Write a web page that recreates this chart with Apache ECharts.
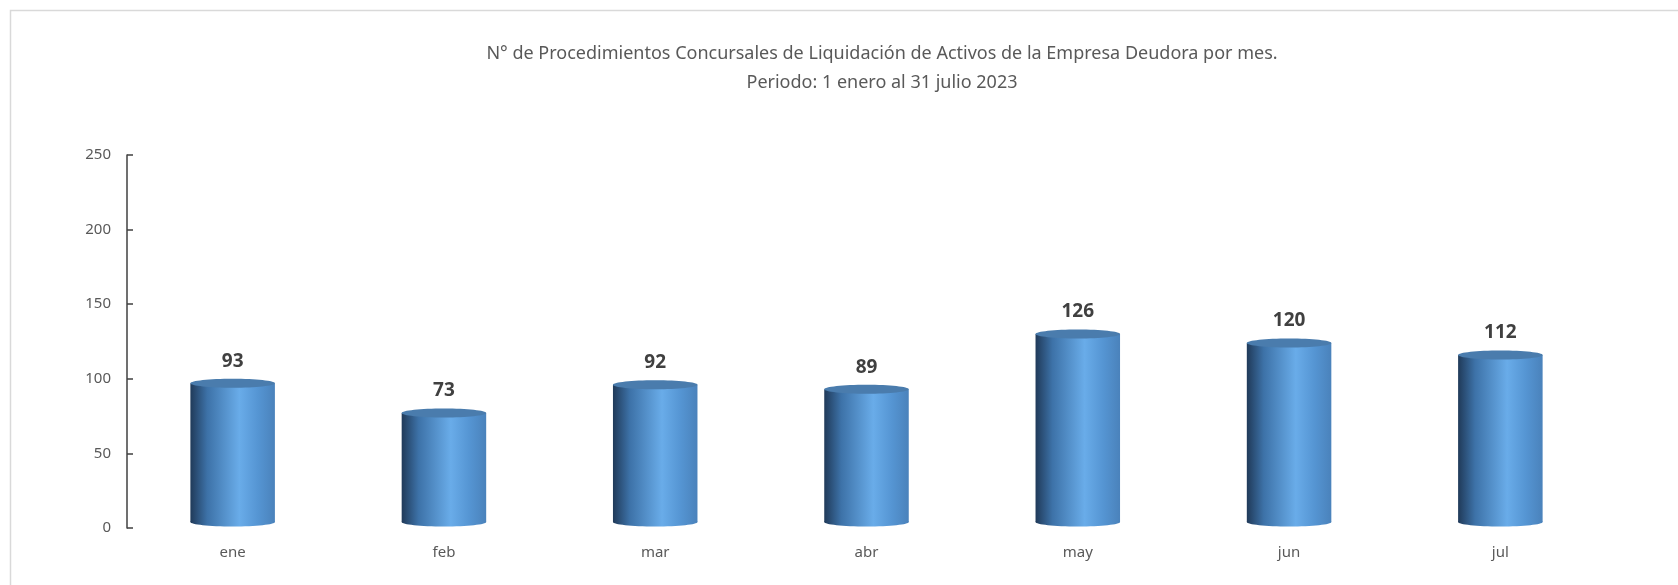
<!DOCTYPE html>
<html>
<head>
<meta charset="utf-8">
<script src="https://cdn.jsdelivr.net/npm/echarts@6/dist/echarts.min.js"></script>
<style>
html,body{margin:0;padding:0;background:#fff;}
#chart{width:1678px;height:585px;}
</style>
</head>
<body>
<div id="chart"></div>
<script>
var meses = ["ene","feb","mar","abr","may","jun","jul"];
var procedimientos = [93,73,92,89,126,120,112];
var ticksY = [0,50,100,150,200,250];

// cilindro "3D" estilo excel, levantado unos px por la profundidad
function cilindro(params, api){
	var top = api.coord([api.value(0), api.value(1)]);
	var base = api.coord([api.value(0), 0]);
	var w = api.size([1,0])[0]*0.4;
	var lift = 6;
	var ry = 4.5;
	var x0 = top[0]-w/2;
	var yTop = top[1]-lift;
	var yBase = base[1]-lift;
	var cuerpo = new echarts.graphic.LinearGradient(0,0,1,0,[
		{offset:0,color:"#203a59"},
		{offset:0.2,color:"#3d72a8"},
		{offset:0.58,color:"#69ace9"},
		{offset:0.8,color:"#5595d3"},
		{offset:1,color:"#4a82bb"}
	]);
	return {
		type:"group",
		children:[
			{type:"ellipse",shape:{cx:top[0],cy:yBase,rx:w/2,ry:ry},style:{fill:cuerpo}},
			{type:"rect",shape:{x:x0,y:yTop,width:w,height:yBase-yTop},style:{fill:cuerpo}},
			{type:"ellipse",shape:{cx:top[0],cy:yTop,rx:w/2,ry:ry},style:{fill:"#4a7cad"}},
			{type:"text",style:{
				text:String(api.value(1)),
				x:top[0],y:yTop-ry-8,
				align:"center",verticalAlign:"bottom",
				font:"bold 19px 'Noto Sans'",
				fill:"#404040"
			}}
		]
	};
}

var chart = echarts.init(document.getElementById("chart"));
var option = {
	animation:false,
	title:{
		text:"N° de Procedimientos Concursales de Liquidación de Activos de la Empresa Deudora por mes.\nPeriodo: 1 enero al 31 julio 2023",
		left:877,
		textAlign:"center",
		top:34,
		textStyle:{fontFamily:"Noto Sans",fontSize:18,fontWeight:"normal",color:"#595959",lineHeight:29}
	},
	graphic:[{
		type:"rect",
		shape:{x:10.5,y:10.5,width:1700,height:600},
		style:{fill:"none",stroke:"#d9d9d9",lineWidth:1.5},
		silent:true
	}],
	grid:{left:127,right:72,top:155,bottom:57},
	xAxis:{
		type:"category",
		data:meses,
		axisLine:{show:false},
		axisTick:{show:false},
		axisLabel:{fontFamily:"Noto Sans",fontSize:15,color:"#595959",margin:17}
	},
	yAxis:{
		type:"value",
		min:ticksY[0],
		max:ticksY[ticksY.length-1],
		interval:50,
		splitLine:{show:false},
		axisLine:{show:true,lineStyle:{color:"#404040",width:1.5}},
		axisTick:{show:true,inside:true,length:6,lineStyle:{color:"#404040",width:1.5}},
		axisLabel:{fontFamily:"Noto Sans",fontSize:15,color:"#595959",margin:16}
	},
	series:[{
		type:"custom",
		renderItem:cilindro,
		data:procedimientos.map(function(v,i){return [i,v];}),
		encode:{x:0,y:1}
	}]
};
chart.setOption(option);
</script>
</body>
</html>
